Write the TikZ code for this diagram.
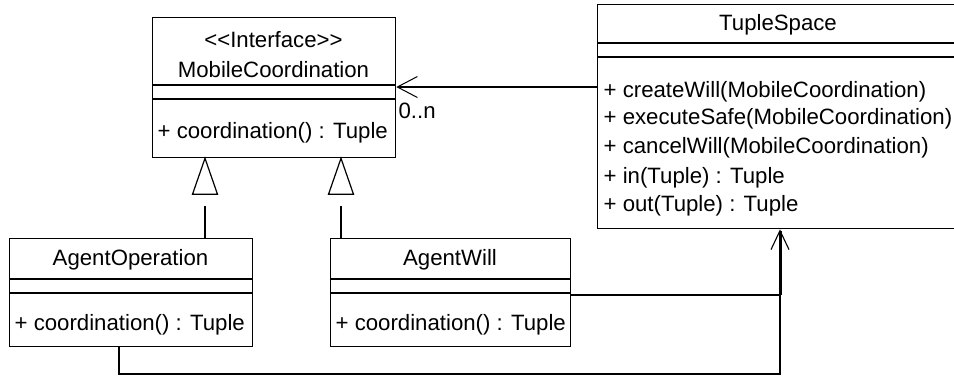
\documentclass[tikz,border=0pt]{standalone}
\usepackage{fontspec}
\setmainfont{Liberation Sans}
\usetikzlibrary{arrows.meta}
\begin{document}
\begin{tikzpicture}[x=1pt, y=-1pt, line width=1.3pt,
  every node/.style={font=\fontsize{22.2}{26}\selectfont, inner sep=0pt},
  classbox/.style n args={2}{draw, rectangle, anchor=north west,
    minimum width=#1, minimum height=#2},
  label/.style={anchor=center},
  member/.style={anchor=west},
  assoc/.style={line width=1.2pt, -{Straight Barb[length=20pt, width=21pt, line width=1pt]}},
  depend/.style={line width=1.2pt},
  realize/.style={line width=3pt, -{Straight Barb[length=19pt, width=18pt, line width=1.1pt]}},
  gentri/.style={line width=1.2pt}
]
\useasboundingbox (0,0) rectangle (954,376);

% class boxes
\node[classbox={243pt}{140pt}] (mc) at (152,17) {};
\node[classbox={243pt}{108pt}] (ao) at (9,238) {};
\node[classbox={240pt}{108pt}] (aw) at (330,238) {};
\node[classbox={362pt}{224pt}] (ts) at (597,4) {};

% compartment dividers
\draw (mc.west |- 0,85) -- (mc.east |- 0,85);
\draw (mc.west |- 0,99) -- (mc.east |- 0,99);
\draw (ao.west |- 0,279) -- (ao.east |- 0,279);
\draw (ao.west |- 0,293) -- (ao.east |- 0,293);
\draw (aw.west |- 0,279) -- (aw.east |- 0,279);
\draw (aw.west |- 0,293) -- (aw.east |- 0,293);
\draw (ts.west |- 0,43) -- (ts.east |- 0,43);
\draw (ts.west |- 0,57) -- (ts.east |- 0,57);

% class names and members
\node[label] (mcster) at (273.5,40) {<\kern0pt<Interface>\kern0pt>};
\node[label] (mcname) at (273.5,70) {MobileCoordination};
\node[member] (mcop) at (157,133) {+ coordination() : Tuple};

\node[label] (aoname) at (130.5,260) {AgentOperation};
\node[member] (aoop) at (14,325) {+ coordination() : Tuple};

\node[label] (awname) at (450,260) {AgentWill};
\node[member] (awop) at (335,325) {+ coordination() : Tuple};

\node[label] (tsname) at (778,25) {TupleSpace};
\node[member] (ts1) at (603,92) {+ createWill(MobileCoordination)};
\node[member] (ts2) at (603,119) {+ executeSafe(MobileCoordination)};
\node[member] (ts3) at (603,148) {+ cancelWill(MobileCoordination)};
\node[member] (ts4) at (603,178) {+ in(Tuple) : Tuple};
\node[member] (ts5) at (603,206) {+ out(Tuple) : Tuple};

% association TupleSpace -> MobileCoordination
\draw[assoc] (ts.west |- 0,87) -- (mc.east |- 0,87);
\node[anchor=north west] (mult) at (398,102) {0..n};

% generalization triangles and their lines
\coordinate (g1) at (205,206);
\coordinate (g2) at (341,206);
\draw[gentri] (mc.south -| 205,0) -- ++(-12.5,36) -- ++(25,0) -- cycle;
\draw[gentri] (mc.south -| 341,0) -- ++(-12.5,36) -- ++(25,0) -- cycle;
\draw[depend] (g1) -- (ao.north -| g1);
\draw[depend] (g2) -- (aw.north -| g2);

% dependencies towards TupleSpace
\coordinate (j) at (780,295);
\coordinate (lo) at (780,374);
\draw[depend] (ao.south -| 119,0) |- (lo) -- (j);
\draw[depend] (aw.east |- j) -- (j);
\draw[realize] (j) -- (ts.south -| j);
\end{tikzpicture}
\end{document}
